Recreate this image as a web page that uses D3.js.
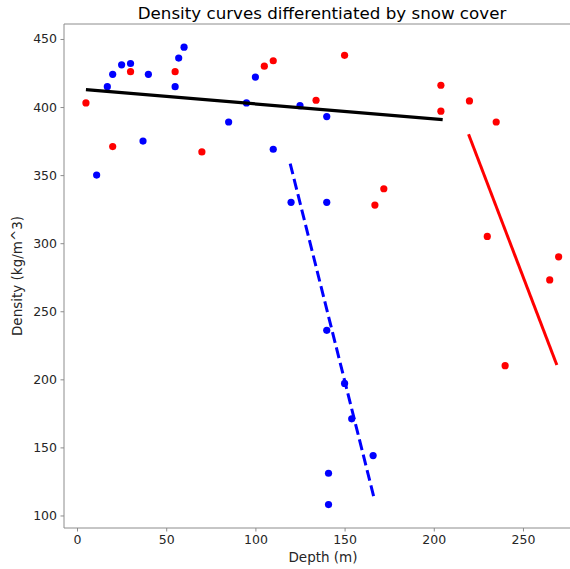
<!DOCTYPE html>
<html>
<head>
<meta charset="utf-8">
<script src="https://cdn.jsdelivr.net/npm/d3@7"></script>
<style>
  html, body { margin: 0; padding: 0; background: #fff; }
  svg { display: block; font-family: "DejaVu Sans", sans-serif; }
</style>
</head>
<body>
<svg id="chart" width="570" height="569"></svg>
<script>
// ---- data ----
const blueDepth   = [11, 17, 20, 25, 30, 37, 40, 55, 57, 60, 85, 95, 100, 110, 120, 125, 140, 140, 140, 150, 154, 166, 141, 141];
const blueDensity = [350, 415, 424, 431, 432, 375, 424, 415, 436, 444, 389, 403, 422, 369, 330, 401, 393, 330, 236, 197, 171, 144, 131, 108];
const redDepth    = [5, 20, 30, 55, 70, 105, 110, 134, 150, 167, 172, 204, 204, 220, 235, 230, 240, 265, 270];
const redDensity  = [403, 371, 426, 426, 367, 430, 434, 405, 438, 328, 340, 416, 397, 404.5, 389, 305, 210, 273, 290];
// fitted lines (endpoints)
const allFitX  = [5, 205];
const allFitY  = [412.8, 390.7];
const blueFitX = [119.5, 166.5];
const blueFitY = [358.5, 113];
const redFitX  = [219.5, 269];
const redFitY  = [380, 210.5];
const xTicks = [0, 50, 100, 150, 200, 250];
const yTicks = [100, 150, 200, 250, 300, 350, 400, 450];

const title = "Density curves differentiated by snow cover";
const xLabel = "Depth (m)";
const yLabel = "Density (kg/m^3)";

// ---- layout ----
const svg = d3.select("#chart");
const mLeft = 64, mRight = 582, mTop = 24, mBottom = 528;

const x = d3.scaleLinear().domain([-7.3, 283.1]).range([mLeft, mRight]);
const y = d3.scaleLinear().domain([90.8, 461]).range([mBottom, mTop]);

const spineColor = "#8c8c8c";
const textColor = "#262626";

// spines
svg.append("line").attr("x1", mLeft).attr("x2", mLeft).attr("y1", mTop).attr("y2", mBottom)
  .attr("stroke", spineColor).attr("stroke-width", 1);
svg.append("line").attr("x1", mLeft).attr("x2", mRight).attr("y1", mBottom).attr("y2", mBottom)
  .attr("stroke", spineColor).attr("stroke-width", 1);
svg.append("line").attr("x1", mLeft).attr("x2", mRight).attr("y1", mTop).attr("y2", mTop)
  .attr("stroke", spineColor).attr("stroke-width", 1);
svg.append("line").attr("x1", mRight).attr("x2", mRight).attr("y1", mTop).attr("y2", mBottom)
  .attr("stroke", spineColor).attr("stroke-width", 1);

// axes
const xAxis = d3.axisBottom(x).tickValues(xTicks).tickSize(3.5).tickPadding(3.5).tickFormat(d3.format("d"));
const yAxis = d3.axisLeft(y).tickValues(yTicks).tickSize(3.5).tickPadding(3.5).tickFormat(d3.format("d"));

const gx = svg.append("g").attr("transform", `translate(0,${mBottom})`).call(xAxis);
const gy = svg.append("g").attr("transform", `translate(${mLeft},0)`).call(yAxis);
[gx, gy].forEach(g => {
  g.select(".domain").remove();
  g.selectAll(".tick line").attr("stroke", spineColor);
  g.selectAll(".tick text").attr("fill", textColor).style("font-size", "12.5px")
   .style("font-family", "'DejaVu Sans', sans-serif");
});

// points
const blue = blueDepth.map((d, i) => ({ x: d, y: blueDensity[i] }));
const red = redDepth.map((d, i) => ({ x: d, y: redDensity[i] }));

svg.append("g").selectAll("circle").data(blue).join("circle")
  .attr("cx", d => x(d.x)).attr("cy", d => y(d.y)).attr("r", 3.6).attr("fill", "#0000ff");
svg.append("g").selectAll("circle").data(red).join("circle")
  .attr("cx", d => x(d.x)).attr("cy", d => y(d.y)).attr("r", 3.6).attr("fill", "#ff0000");

// fit lines
const line = d3.line().x(d => x(d[0])).y(d => y(d[1]));
svg.append("path").datum(allFitX.map((v, i) => [v, allFitY[i]])).attr("d", line)
  .attr("stroke", "#000").attr("stroke-width", 3.2).attr("fill", "none");
svg.append("path").datum(blueFitX.map((v, i) => [v, blueFitY[i]])).attr("d", line)
  .attr("stroke", "#0000ff").attr("stroke-width", 3).attr("fill", "none")
  .attr("stroke-dasharray", "11,4.8");
svg.append("path").datum(redFitX.map((v, i) => [v, redFitY[i]])).attr("d", line)
  .attr("stroke", "#ff0000").attr("stroke-width", 3).attr("fill", "none");

// texts
svg.append("text").attr("x", (mLeft + mRight) / 2 - 1).attr("y", 19).attr("text-anchor", "middle")
  .attr("fill", "#000").style("font-size", "16.7px").text(title);
svg.append("text").attr("x", (mLeft + mRight) / 2).attr("y", 562).attr("text-anchor", "middle")
  .attr("fill", textColor).style("font-size", "13.5px").text(xLabel);
svg.append("text").attr("transform", `translate(22,${(mTop + mBottom) / 2}) rotate(-90)`)
  .attr("text-anchor", "middle").attr("fill", textColor).style("font-size", "13.5px").text(yLabel);
</script>
</body>
</html>
